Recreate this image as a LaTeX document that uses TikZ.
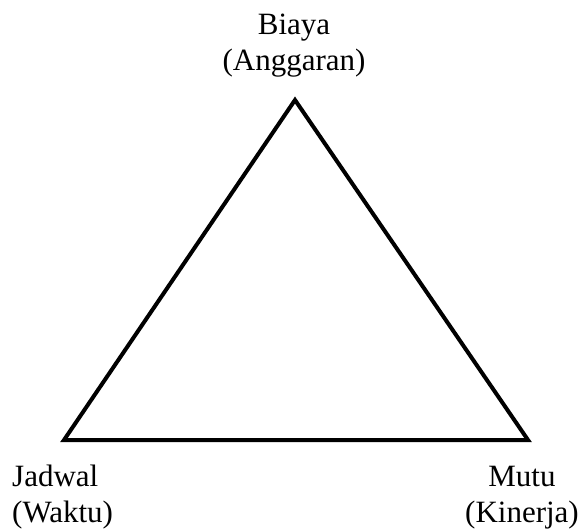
\documentclass[tikz,border=0pt]{standalone}
\usepackage{fontspec}
\setmainfont{Liberation Serif}
\begin{document}
\begin{tikzpicture}[x=1pt,y=-1pt,
  lbl/.style={inner sep=0pt,font=\fontsize{31}{36}\selectfont},
  edge/.style={line width=4pt,line join=miter}]
\useasboundingbox (0,0) rectangle (584,529);
\coordinate (A) at (295,100);
\coordinate (B) at (64,440);
\coordinate (C) at (528,440);
\draw[edge] (A) -- (B) -- (C) -- cycle;
\node[lbl,align=center,anchor=base] (biaya) at (294,71) {Biaya\\(Anggaran)};
\node[lbl,align=left,anchor=base west] (jadwal) at (12,522) {Jadwal\\(Waktu)};
\node[lbl,align=center,anchor=base] (mutu) at (522,522) {Mutu\\(Kinerja)};
\end{tikzpicture}
\end{document}
